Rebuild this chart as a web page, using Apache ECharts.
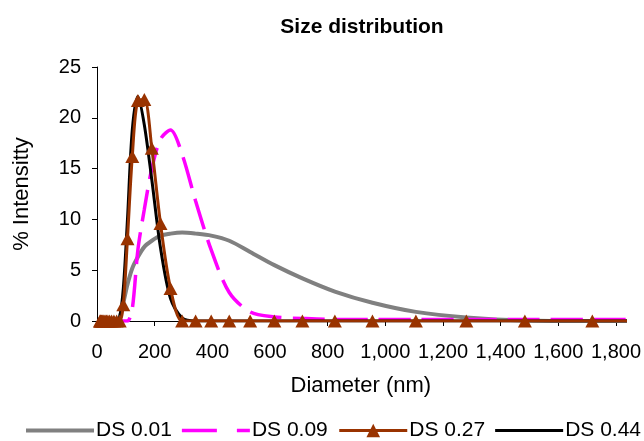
<!DOCTYPE html>
<html>
<head>
<meta charset="utf-8">
<script src="https://cdn.jsdelivr.net/npm/echarts@6/dist/echarts.min.js"></script>
<style>
  html, body { margin: 0; padding: 0; background: #ffffff; }
  #chart { width: 644px; height: 441px; }
</style>
</head>
<body>
<div id="chart"></div>
<script>
// Size classes of the particle sizer (nm)
const diameters = [10.1, 11.7, 13.54, 15.69, 18.17, 21.04, 24.36, 28.21, 32.67, 37.84,
  43.82, 50.75, 58.77, 68.06, 78.82, 91.28, 105.7, 122.4, 141.8, 164.2,
  190.1, 220.2, 255.0, 295.3, 342.0, 396.1, 458.7, 531.2, 615.1, 712.4,
  825.0, 955.4, 1106, 1281, 1484, 1718, 1990];

// % intensity per size class for each degree of substitution
const ds001 = [0, 0, 0, 0, 0, 0, 0, 0, 0, 0,
  0, 0, 0, 0, 0.4, 1.8, 3.6, 5.2, 6.3, 7.3,
  7.9, 8.4, 8.6, 8.7, 8.6, 8.4, 7.9, 6.8, 5.5, 4.2,
  2.9, 1.8, 0.9, 0.35, 0.05, 0, 0];
const ds009 = [0, 0, 0, 0, 0, 0, 0, 0, 0, 0,
  0, 0, 0, 0, 0, 0, 0, 1.2, 7.0, 11.0,
  15.0, 17.9, 18.8, 16.4, 11.8, 7.0, 2.8, 0.9, 0.4, 0.25,
  0.15, 0.15, 0.15, 0.15, 0.15, 0.15, 0.15];
const ds027 = [0, 0, 0, 0, 0, 0, 0, 0, 0, 0,
  0, 0, 0, 0, 0, 1.6, 8.1, 16.2, 21.7, 21.8,
  17.0, 9.6, 3.2, 0, 0, 0, 0, 0, 0, 0,
  0, 0, 0, 0, 0, 0, 0];
const ds044 = [0, 0, 0, 0, 0, 0, 0, 0, 0, 0,
  0, 0, 0, 0, 0.4, 3.2, 10.0, 18.8, 22.1, 19.3,
  13.9, 7.2, 2.2, 0.3, 0, 0, 0, 0, 0, 0,
  0, 0, 0, 0, 0, 0, 0];

const seriesNames = ['DS 0.01', 'DS 0.09', 'DS 0.27', 'DS 0.44'];
const titleText = 'Size distribution';
const xTitle = 'Diameter (nm)';
const yTitle = '% Intensitty';

const pairs = vals => diameters.map((d, i) => [d, vals[i]]);
const FONT = '"Liberation Sans", Arial, sans-serif';

// Legend keys drawn as plain strokes (the leading moves pin the 68x17 key box)
const KEY_H = 17;
const solidKey = h => `path://M0,0M68,${KEY_H}M0,${KEY_H / 2 - h / 2}h68v${h}h-68z`;
const dashedKey = `path://M0,0M68,${KEY_H}M0,${KEY_H / 2 - 1.75}h35v3.5h-35zM55,${KEY_H / 2 - 1.75}h13v3.5h-13z`;

const chart = echarts.init(document.getElementById('chart'), null, { renderer: 'canvas' });

chart.setOption({
  animation: false,
  backgroundColor: '#ffffff',
  textStyle: { fontFamily: FONT },
  graphic: [{
    type: 'text',
    x: 362,
    y: 27,
    style: {
      text: titleText, fontFamily: FONT, fontSize: 21, fontWeight: 'bold', fill: '#000',
      align: 'center', verticalAlign: 'middle'
    }
  }],
  grid: { left: 97, right: 19, top: 67, bottom: 120, containLabel: false },
  legend: {
    top: 420,
    left: 26,
    width: 640,
    padding: 0,
    itemWidth: 68,
    itemHeight: KEY_H,
    itemGap: 10,
    textStyle: { fontFamily: FONT, fontSize: 21, color: '#000', padding: [0, 0, 0, -3] },
    data: [
      { name: seriesNames[0], icon: solidKey(4) },
      { name: seriesNames[1], icon: dashedKey },
      { name: seriesNames[2], lineStyle: { width: 3 } },
      { name: seriesNames[3], icon: solidKey(3) }
    ]
  },
  xAxis: {
    type: 'value',
    min: 0,
    max: 1830,
    interval: 200,
    name: xTitle,
    nameLocation: 'middle',
    nameGap: 54,
    nameTextStyle: { fontFamily: FONT, fontSize: 22, color: '#000' },
    axisLine: { show: true, lineStyle: { color: '#000', width: 1 } },
    axisTick: { show: true, inside: false, length: 5, lineStyle: { color: '#000' } },
    axisLabel: {
      showMaxLabel: false,
      margin: 21,
      fontFamily: FONT, fontSize: 20, color: '#000',
      formatter: v => (v % 200 === 0 ? v.toLocaleString('en-US') : '')
    },
    splitLine: { show: false }
  },
  yAxis: {
    type: 'value',
    min: 0,
    max: 25,
    interval: 5,
    name: yTitle,
    nameLocation: 'middle',
    nameGap: 64,
    nameTextStyle: { fontFamily: FONT, fontSize: 22, color: '#000' },
    axisLine: { show: true, lineStyle: { color: '#000', width: 1 } },
    axisTick: { show: true, inside: false, length: 5, lineStyle: { color: '#000' } },
    axisLabel: { margin: 16, fontFamily: FONT, fontSize: 20, color: '#000' },
    splitLine: { show: false }
  },
  series: [
    {
      name: seriesNames[0], type: 'line', data: pairs(ds001),
      smooth: 0.3, symbol: 'none', z: 2,
      lineStyle: { color: '#808080', width: 4 }, itemStyle: { color: '#808080' }
    },
    {
      name: seriesNames[1], type: 'line', data: pairs(ds009),
      smooth: 0.3, symbol: 'none', z: 3,
      lineStyle: { color: '#ff00ff', width: 3.5, type: [32, 11] }, itemStyle: { color: '#ff00ff' }
    },
    {
      name: seriesNames[3], type: 'line', data: pairs(ds044),
      smooth: 0.3, symbol: 'none', z: 4,
      lineStyle: { color: '#000000', width: 3 }, itemStyle: { color: '#000000' }
    },
    {
      name: seriesNames[2], type: 'line', data: pairs(ds027),
      smooth: 0.3, symbol: 'triangle', symbolSize: [14, 13], showAllSymbol: true, z: 5,
      lineStyle: { color: '#993300', width: 3 }, itemStyle: { color: '#993300' }
    }
  ]
});
</script>
</body>
</html>
